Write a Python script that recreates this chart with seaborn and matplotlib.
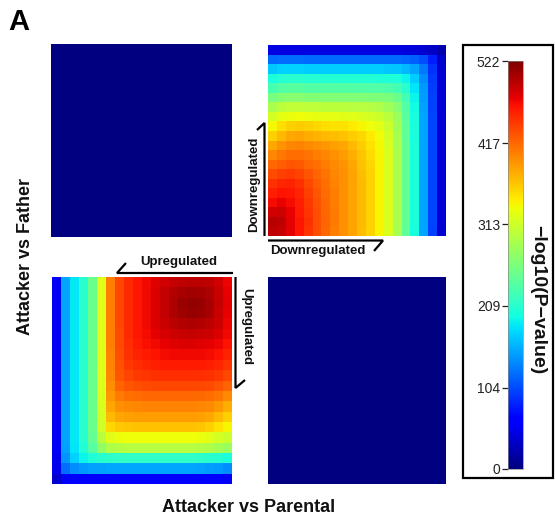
import numpy as np
import pandas as pd
import matplotlib
matplotlib.use("Agg")
import matplotlib.pyplot as plt
from matplotlib.lines import Line2D
from matplotlib.patches import Rectangle
import seaborn as sns

sns.set_style("white")
plt.rcParams['font.family'] = ['Liberation Sans', 'DejaVu Sans']

# ---------------- data ----------------
panel_label = "A"
x_label = "Attacker vs Parental"
y_label = "Attacker vs Father"
cbar_label = "\u2212log10(P\u2212value)"
cbar_ticks = [0, 104, 209, 313, 417, 522]
vmax = 522

# Down/Down quadrant (top-right), rows top->bottom, cols left->right
down_down = [
    [45, 45, 45, 45, 45, 45, 45, 45, 45, 45, 45, 45, 45, 45, 45, 44, 42, 38, 32, 22],
    [120, 122, 122, 122, 120, 120, 120, 120, 120, 120, 120, 120, 120, 120, 120, 118, 114, 105, 80, 35],
    [168, 172, 172, 172, 170, 170, 170, 170, 170, 170, 170, 170, 170, 168, 166, 160, 150, 128, 90, 38],
    [200, 207, 208, 208, 206, 206, 205, 205, 205, 205, 205, 204, 203, 202, 200, 190, 170, 138, 95, 40],
    [228, 236, 238, 238, 236, 236, 235, 235, 235, 235, 235, 234, 233, 231, 226, 210, 182, 143, 97, 40],
    [258, 266, 268, 268, 266, 266, 265, 265, 265, 265, 264, 263, 262, 260, 250, 225, 190, 146, 98, 40],
    [290, 300, 304, 304, 302, 302, 300, 300, 300, 299, 298, 296, 292, 285, 268, 235, 195, 148, 99, 40],
    [318, 328, 332, 334, 332, 330, 328, 327, 326, 325, 322, 318, 310, 300, 280, 240, 197, 149, 100, 40],
    [338, 352, 360, 362, 360, 356, 352, 350, 349, 346, 340, 334, 325, 310, 285, 243, 198, 149, 100, 40],
    [360, 372, 382, 384, 380, 376, 372, 370, 368, 362, 355, 345, 335, 318, 288, 244, 199, 150, 100, 40],
    [382, 392, 400, 402, 398, 394, 390, 386, 382, 372, 362, 350, 338, 320, 289, 245, 200, 150, 100, 40],
    [400, 408, 414, 414, 410, 405, 400, 394, 388, 378, 366, 354, 339, 321, 290, 245, 200, 150, 100, 40],
    [418, 424, 428, 426, 418, 412, 405, 398, 392, 382, 369, 356, 340, 322, 290, 245, 200, 150, 100, 40],
    [434, 440, 442, 438, 428, 420, 410, 400, 394, 384, 371, 357, 340, 322, 290, 245, 200, 150, 100, 40],
    [448, 454, 456, 448, 436, 424, 413, 402, 395, 385, 372, 358, 340, 322, 290, 245, 200, 150, 100, 40],
    [458, 464, 462, 454, 440, 428, 415, 404, 395, 385, 372, 358, 340, 322, 290, 245, 200, 150, 100, 40],
    [468, 474, 468, 458, 444, 430, 417, 405, 395, 385, 372, 358, 340, 322, 290, 245, 200, 150, 100, 40],
    [484, 486, 474, 460, 446, 431, 418, 406, 395, 385, 372, 358, 340, 322, 290, 245, 200, 150, 100, 40],
    [496, 492, 477, 462, 447, 432, 419, 406, 395, 385, 372, 358, 340, 322, 290, 245, 200, 150, 100, 40],
    [492, 490, 476, 461, 446, 431, 418, 405, 394, 384, 371, 357, 339, 321, 289, 244, 199, 149, 99, 38],
]

# Up/Up quadrant (bottom-left), rows top->bottom, cols left->right
up_up = [
    [55, 150, 185, 210, 250, 325, 405, 435, 452, 462, 470, 478, 485, 490, 492, 494, 494, 492, 485, 472],
    [55, 150, 185, 210, 250, 325, 405, 435, 452, 462, 470, 480, 490, 498, 503, 506, 505, 500, 488, 474],
    [55, 150, 185, 210, 250, 325, 405, 435, 452, 462, 470, 480, 490, 500, 508, 512, 510, 503, 490, 476],
    [55, 150, 185, 210, 250, 325, 405, 435, 452, 462, 470, 480, 490, 500, 506, 510, 508, 502, 489, 475],
    [55, 150, 185, 210, 250, 325, 405, 435, 452, 462, 470, 480, 488, 495, 498, 500, 498, 495, 486, 473],
    [55, 150, 185, 210, 250, 325, 404, 434, 451, 461, 468, 476, 482, 487, 489, 490, 489, 486, 480, 470],
    [55, 150, 185, 210, 250, 325, 404, 434, 450, 459, 465, 471, 475, 478, 480, 480, 479, 477, 472, 464],
    [55, 150, 185, 210, 250, 325, 403, 432, 447, 455, 460, 464, 467, 469, 470, 470, 469, 467, 463, 456],
    [55, 150, 185, 210, 250, 324, 402, 430, 443, 450, 454, 457, 459, 460, 460, 460, 459, 457, 453, 446],
    [55, 150, 185, 210, 250, 324, 400, 427, 438, 443, 446, 448, 449, 450, 450, 450, 449, 447, 443, 436],
    [55, 150, 185, 210, 250, 323, 396, 420, 428, 432, 434, 435, 436, 436, 436, 436, 435, 433, 428, 420],
    [55, 150, 185, 210, 250, 322, 390, 406, 412, 414, 416, 417, 417, 417, 417, 417, 416, 414, 408, 398],
    [55, 150, 185, 210, 250, 320, 382, 395, 399, 401, 402, 402, 402, 402, 402, 402, 401, 398, 390, 378],
    [55, 150, 185, 210, 250, 318, 372, 382, 386, 388, 388, 388, 388, 388, 388, 388, 386, 382, 372, 360],
    [55, 150, 185, 210, 249, 314, 356, 364, 367, 368, 368, 368, 368, 368, 368, 368, 366, 360, 350, 340],
    [55, 150, 184, 208, 246, 300, 325, 331, 333, 334, 334, 334, 334, 334, 334, 333, 331, 326, 318, 310],
    [54, 148, 182, 205, 238, 275, 292, 297, 298, 299, 299, 299, 299, 299, 299, 298, 296, 292, 286, 280],
    [52, 142, 172, 190, 202, 208, 211, 213, 214, 214, 214, 214, 214, 214, 214, 213, 212, 210, 206, 200],
    [50, 122, 138, 144, 147, 148, 149, 150, 150, 150, 150, 150, 150, 150, 150, 149, 148, 146, 143, 138],
    [38, 55, 58, 60, 61, 62, 62, 62, 62, 62, 62, 62, 62, 62, 62, 62, 61, 60, 58, 55],
]

# Discordant quadrants: no overlap (all zero)
up_down = [[0] * 20 for _ in range(20)]
down_up = [[0] * 20 for _ in range(20)]

# ---------------- figure ----------------
W, H = 555, 522
fig = plt.figure(figsize=(W / 100, H / 100), dpi=100)

def px_axes(x0, y0, x1, y1):
    return fig.add_axes([x0 / W, 1 - y1 / H, (x1 - x0) / W, (y1 - y0) / H])

ax_tl = px_axes(51, 44, 232, 237)
ax_tr = px_axes(268, 45, 446, 236)
ax_bl = px_axes(52, 277, 232, 484)
ax_br = px_axes(268, 277, 446, 484)
cax = px_axes(508, 61, 523, 469)

common = dict(cmap="jet", vmin=0, vmax=vmax, xticklabels=False,
              yticklabels=False, linewidths=0)
sns.heatmap(pd.DataFrame(up_down), ax=ax_tl, cbar=False, **common)
sns.heatmap(pd.DataFrame(down_down), ax=ax_tr, cbar=True, cbar_ax=cax, **common)
sns.heatmap(pd.DataFrame(up_up), ax=ax_bl, cbar=False, **common)
sns.heatmap(pd.DataFrame(down_up), ax=ax_br, cbar=False, **common)

for a in (ax_tl, ax_tr, ax_bl, ax_br):
    a.set_xlabel("")
    a.set_ylabel("")

cbar = ax_tr.collections[0].colorbar
cbar.set_ticks(cbar_ticks)
cbar.set_ticklabels([str(t) for t in cbar_ticks])
cax.yaxis.set_ticks_position("left")
cax.tick_params(axis="y", length=4, width=0.9, labelsize=10, pad=1.5,
                colors="#222222", labelcolor="#222222")
cbar.outline.set_linewidth(0.5)
cbar.outline.set_edgecolor("#888888")

# colorbar frame
fig.patches.append(Rectangle((463 / W, 1 - 478 / H), 90 / W, 433 / H,
                             transform=fig.transFigure, fill=False,
                             edgecolor="black", linewidth=1.6))

def fline(xs, ys, lw=1.6):
    fig.add_artist(Line2D([x / W for x in xs], [1 - y / H for y in ys],
                          transform=fig.transFigure, color="black",
                          linewidth=lw, solid_capstyle="butt",
                          solid_joinstyle="miter"))

def ftext(x, y, s, **kw):
    fig.text(x / W, 1 - y / H, s, ha="center", va="center", **kw)

# brackets (direction arrows)
fline([257, 264.5, 264.5], [130, 123, 236])          # TR vertical
fline([268, 383, 374], [240.5, 240.5, 251])          # TR horizontal
fline([126, 117, 233], [263, 273, 273])              # BL horizontal
fline([235.5, 235.5, 245], [277, 388, 380])          # BL vertical

bkw = dict(fontsize=9.5, fontweight="bold", color="#111111")
ftext(254, 184, "Downregulated", rotation=90, **bkw)
ftext(318, 251, "Downregulated", **bkw)
ftext(179, 262, "Upregulated", **bkw)
ftext(246, 327, "Upregulated", rotation=270, **bkw)

ftext(249, 508, x_label, fontsize=13, fontweight="bold", color="#111111")
ftext(26, 257, y_label, fontsize=13, fontweight="bold", rotation=90, color="#111111")
ftext(19, 22, panel_label, fontsize=21, fontweight="bold", color="black")
ftext(538, 300, cbar_label, fontsize=14, fontweight="bold", rotation=270, color="#111111")

fig.savefig("out.png", dpi=100)
